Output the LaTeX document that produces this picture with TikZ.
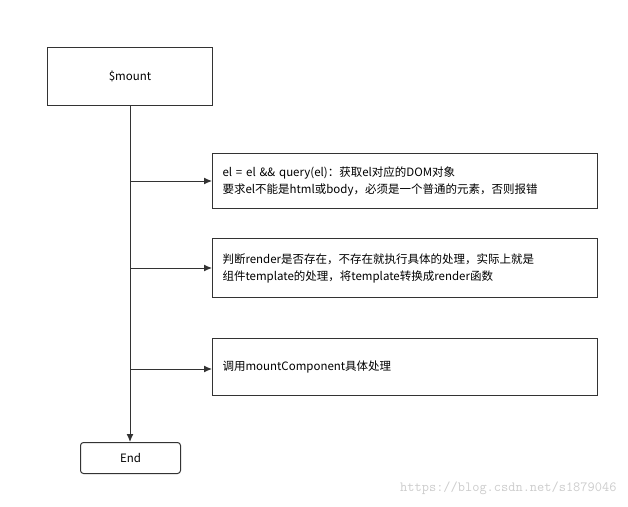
\documentclass[tikz,border=0pt]{standalone}
\usepackage{fontspec}
\setmainfont{Noto Sans CJK SC}
\usetikzlibrary{positioning}
\usetikzlibrary{arrows.meta}

\begin{document}
\begin{tikzpicture}[x=1pt, y=-1pt, font=\fontsize{11.5}{17}\selectfont]
	\tikzstyle{block}=[draw=black!80, line width=1pt, rectangle, inner sep=0pt, anchor=north west]
	\tikzstyle{note}=[block, align=left, text width=365pt, inner xsep=10pt]
	\tikzstyle{flow}=[draw=black!80, line width=1pt]
	\tikzstyle{branch}=[flow, -{Latex[length=8pt, width=7pt]}]

	\useasboundingbox (0,0) rectangle (628,506);

	\node[block, minimum width=165pt, minimum height=58pt] (mount) at (47,47) {\$mount};
	\node[block, rounded corners=3pt, minimum width=100pt, minimum height=31pt] (end) at (80,442) {End};

	\node[note, minimum height=55pt] (elbox) at (212,153) {el = el \&\& query(el)：获取el对应的DOM对象\\要求el不能是html或body，必须是一个普通的元素，否则报错};
	\node[note, minimum height=59pt] (renderbox) at (212,238) {判断render是否存在，不存在就执行具体的处理，实际上就是\\组件template的处理，将template转换成render函数};
	\node[note, minimum height=57pt] (compbox) at (212,338) {调用mountComponent具体处理};

	% trunk
	\coordinate (top) at (130,105);
	\draw[branch] (top) -- (end.north -| top);

	% branches
	\foreach \target/\yy in {elbox/181, renderbox/268, compbox/369} {
		\coordinate (from) at (130,\yy);
		\draw[branch] (from) -- (from -| \target.west);
	}

	\node[text=black!20, font=\ttfamily\fontsize{14}{16}\selectfont, anchor=south east] (mark) at (620,498) {https://blog.csdn.net/s1879046};
\end{tikzpicture}
\end{document}
